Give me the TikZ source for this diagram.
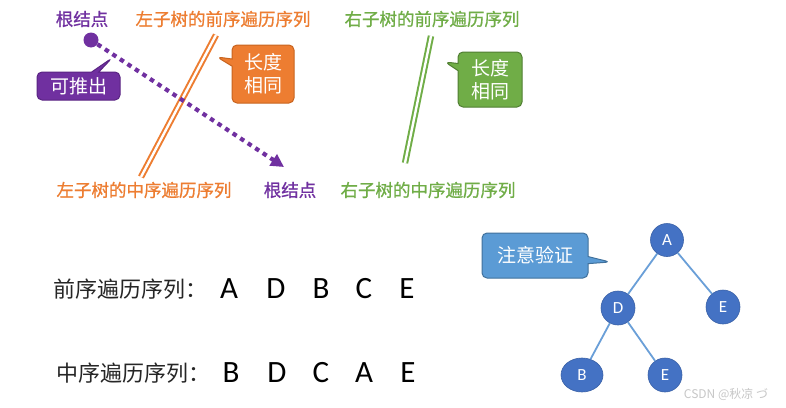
\documentclass[tikz,border=0pt]{standalone}
\usepackage{fontspec}
\setmainfont{Carlito}
\newfontfamily\cjk{Noto Sans CJK SC}
\newfontfamily\cjkb[FakeBold=0.8]{Noto Sans CJK SC}
\usetikzlibrary{shapes.callouts,shapes.geometric,arrows.meta}
\definecolor{pur}{HTML}{7030A0}
\definecolor{purd}{HTML}{5A2483}
\definecolor{org}{HTML}{ED7D31}
\definecolor{orgd}{HTML}{C8641F}
\definecolor{grn}{HTML}{70AD47}
\definecolor{grnd}{HTML}{507E32}
\definecolor{blu}{HTML}{5B9BD5}
\definecolor{blud}{HTML}{41719C}
\definecolor{tnode}{HTML}{4472C4}
\definecolor{tedge}{HTML}{6A9FD8}
\tikzset{
  lbl/.style={font=\cjkb\fontsize{17.5}{20}\selectfont, inner sep=0pt},
  callbox/.style={rectangle callout, rounded corners=5pt, line width=1pt,
    text=white, font=\cjk\fontsize{19}{23}\selectfont, align=center, inner sep=2pt},
  seqlbl/.style={font=\cjk\fontsize{22}{26}\selectfont, anchor=west, inner sep=0pt, text=black!85},
  letter/.style={font=\fontsize{31}{34}\selectfont, inner sep=0pt, text=black},
  tn/.style={circle, fill=tnode, draw=tnode!85!black, line width=0.6pt, minimum size=34pt,
    inner sep=0pt, text=white, font=\fontsize{17}{19}\selectfont},
  tedgestyle/.style={draw=tedge, line width=1.8pt},
  dbl/.style={line width=2pt, double=white, double distance=2.4pt},
}
\begin{document}
\begin{tikzpicture}[x=1pt,y=-1pt]
\useasboundingbox (0,0) rectangle (786,407);
\fill[white] (0,0) rectangle (786,407);

% top labels
\node[lbl, text=pur] (root1) at (82,19) {根结点};
\node[lbl, text=org] (lpre) at (223,19) {左子树的前序遍历序列};
\node[lbl, text=grn] (rpre) at (432,19) {右子树的前序遍历序列};
\node[lbl, text=org] (lin) at (144,190) {左子树的中序遍历序列};
\node[lbl, text=pur] (root2) at (290,190) {根结点};
\node[lbl, text=grn] (rin) at (428,190) {右子树的中序遍历序列};

% double lines
\coordinate (lt) at (216,35);
\coordinate (lb) at (141,177);
\coordinate (rt) at (431,36);
\coordinate (rb) at (405,163);
\draw[dbl, draw=org] (lt) -- (lb);
\draw[dbl, draw=grn] (rt) -- (rb);

% root dot and dotted arrow
\node[circle, fill=pur, minimum size=15pt, inner sep=0pt] (dot) at (91,40) {};
\coordinate (tip) at (284,167);
\draw[pur, line width=4.2pt, dash pattern=on 4.5pt off 4.5pt,
  -{Triangle[length=13pt,width=13pt]}] (dot) -- (tip);

% callouts
\node[callbox, fill=pur, draw=purd, minimum width=83pt, minimum height=28pt,
  callout absolute pointer={(112,58)}] (tui) at (78.5,86) {可推出};
\node[callbox, fill=org, draw=orgd, minimum width=62pt, minimum height=58pt,
  callout absolute pointer={(217,57)}] (lenl) at (263,74) {长度\\相同};
\node[callbox, fill=grn, draw=grnd, minimum width=64pt, minimum height=55pt,
  callout absolute pointer={(445,62)}] (lenr) at (490,79.5) {长度\\相同};
\node[callbox, fill=blu, draw=blud, minimum width=106pt, minimum height=45pt,
  callout absolute pointer={(610,262)}] (check) at (535,255.5) {注意验证};

% sequences
\node[seqlbl] (pre) at (53,289) {前序遍历序列：};
\node[letter] (p1) at (229,289) {A};
\node[letter] (p2) at (276,289) {D};
\node[letter] (p3) at (321,289) {B};
\node[letter] (p4) at (364,289) {C};
\node[letter] (p5) at (407,289) {E};
\node[seqlbl] (ino) at (56,373) {中序遍历序列：};
\node[letter] (i1) at (231,373) {B};
\node[letter] (i2) at (277,373) {D};
\node[letter] (i3) at (321,373) {C};
\node[letter] (i4) at (364,373) {A};
\node[letter] (i5) at (408,373) {E};

% tree
\node[tn, minimum size=33pt] (A) at (667,240) {A};
\node[tn] (D) at (618,308) {D};
\node[tn] (E1) at (723,307) {E};
\node[tn, ellipse, minimum width=42pt, minimum height=34pt] (B) at (582,375) {B};
\node[tn] (E2) at (665,375) {E};
\draw[tedgestyle] (A) -- (D);
\draw[tedgestyle] (A) -- (E1);
\draw[tedgestyle] (D) -- (B);
\draw[tedgestyle] (D) -- (E2);

% watermark
\node[font=\cjk\fontsize{12}{14}\selectfont, text=black!22, inner sep=0pt] (wm) at (726,394) {CSDN @秋凉 づ};
\end{tikzpicture}
\end{document}
